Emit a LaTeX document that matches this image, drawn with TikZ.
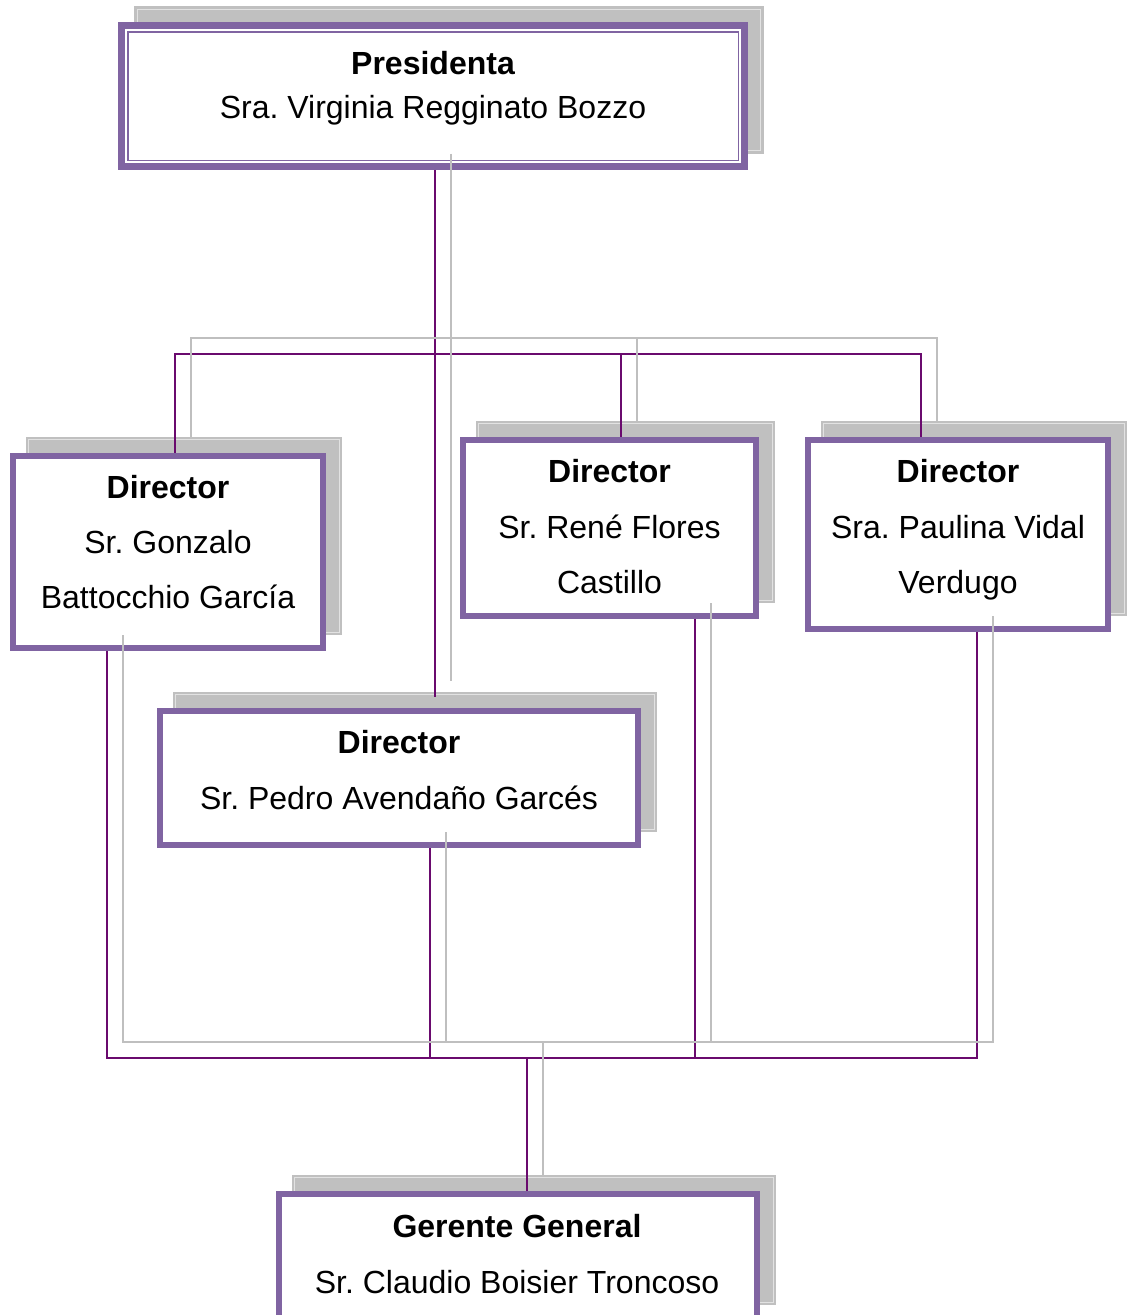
\documentclass[tikz,border=0pt]{standalone}
\usepackage{fontspec}
\setmainfont{Liberation Sans}
\frenchspacing
\definecolor{framepurple}{HTML}{8064A2}
\definecolor{connpurple}{HTML}{6A0A6E}
\definecolor{shadowgray}{HTML}{C0C0C0}
\definecolor{shadowline}{HTML}{E2E2E2}
\definecolor{conngray}{HTML}{BFBFBF}
\tikzset{
  shadowbox/.style={rectangle, fill=shadowgray, draw=none, inner sep=0pt,
    path picture={\draw[shadowline, line width=1pt]
      ([shift={(3pt,-3pt)}]path picture bounding box.north west) rectangle
      ([shift={(-3pt,3pt)}]path picture bounding box.south east);}},
  framebox/.style={rectangle, draw=framepurple, fill=white, line width=6.5pt, inner sep=0pt},
  pconn/.style={draw=connpurple, line width=2pt},
  gconn/.style={draw=conngray, line width=2pt},
  txt/.style={anchor=base, inner sep=0pt, font=\fontsize{32}{38}\selectfont},
  btxt/.style={txt, font=\fontsize{32}{38}\selectfont\bfseries},
}
\begin{document}
\begin{tikzpicture}[x=1pt, y=-1pt]
\useasboundingbox (0,0) rectangle (1128,1315);
% shadows
\node[shadowbox, minimum width=629.5, minimum height=147.5] (presS) at (449,80) {};
\node[shadowbox, minimum width=316.5, minimum height=198.5] (gonzS) at (184,536) {};
\node[shadowbox, minimum width=299.5, minimum height=182.5] (reneS) at (625.5,512) {};
\node[shadowbox, minimum width=306.5, minimum height=195.5] (paulS) at (974,518.5) {};
\node[shadowbox, minimum width=484.5, minimum height=140.5] (pedroS) at (415,762) {};
\node[shadowbox, minimum width=484.5, minimum height=130.5] (gerS) at (534,1240) {};
% connector coordinates
\coordinate (pedroIn) at (435,697);
\coordinate (busL) at (175,354);
\coordinate (busM) at (621,354);
\coordinate (busR) at (921,354);
\coordinate (bbL) at (107,1058);
\coordinate (bbP) at (430,1058);
\coordinate (bbN) at (695,1058);
\coordinate (bbR) at (977,1058);
\coordinate (bbG) at (527,1058);
\coordinate (pedroInS) at (451,681);
\coordinate (busLS) at (191,338);
\coordinate (busMS) at (637,338);
\coordinate (busRS) at (937,338);
\coordinate (bbLS) at (123,1042);
\coordinate (bbPS) at (446,1042);
\coordinate (bbNS) at (711,1042);
\coordinate (bbRS) at (993,1042);
\coordinate (bbGS) at (543,1042);
% frames
\node[framebox, minimum width=623, minimum height=141] (pres) at (433,96) {};
\node[framebox, minimum width=310, minimum height=192] (gonz) at (168,552) {};
\node[framebox, minimum width=293, minimum height=176] (rene) at (609.5,528) {};
\node[framebox, minimum width=300, minimum height=189] (paul) at (958,534.5) {};
\node[framebox, minimum width=478, minimum height=134] (pedro) at (399,778) {};
\node[framebox, minimum width=478, minimum height=124] (ger) at (518,1256) {};
\draw[framepurple, line width=1.5pt] ([shift={(9.5pt,-9.5pt)}]pres.north west) rectangle ([shift={(-9.5pt,9.5pt)}]pres.south east);
% purple connectors
\draw[pconn] (pres.south -| pedroIn) -- (pedroIn);
\draw[pconn] (gonz.north -| busL) -- (busL) -- (busR) -- (paul.north -| busR);
\draw[pconn] (busM) -- (rene.north -| busM);
\draw[pconn] (gonz.south -| bbL) -- (bbL) -- (bbR) -- (paul.south -| bbR);
\draw[pconn] (pedro.south -| bbP) -- (bbP);
\draw[pconn] (rene.south -| bbN) -- (bbN);
\draw[pconn] (bbG) -- (ger.north -| bbG);
% gray shadow connectors
\draw[gconn] (presS.south -| pedroInS) -- (pedroInS);
\draw[gconn] (gonzS.north -| busLS) -- (busLS) -- (busRS) -- (paulS.north -| busRS);
\draw[gconn] (busMS) -- (reneS.north -| busMS);
\draw[gconn] (gonzS.south -| bbLS) -- (bbLS) -- (bbRS) -- (paulS.south -| bbRS);
\draw[gconn] (pedroS.south -| bbPS) -- (bbPS);
\draw[gconn] (reneS.south -| bbNS) -- (bbNS);
\draw[gconn] (bbGS) -- (gerS.north -| bbGS);
% texts
\node[btxt] (presT1) at (433,74) {Presidenta};
\node[txt] (presT2) at (433,118) {Sra. Virginia Regginato Bozzo};
\node[btxt] (gonzT1) at (168,498) {Director};
\node[txt] (gonzT2) at (168,553) {Sr. Gonzalo};
\node[txt] (gonzT3) at (168,608) {Battocchio García};
\node[btxt] (reneT1) at (609.5,482) {Director};
\node[txt] (reneT2) at (609.5,538) {Sr. René Flores};
\node[txt] (reneT3) at (609.5,593) {Castillo};
\node[btxt] (paulT1) at (958,482) {Director};
\node[txt] (paulT2) at (958,538) {Sra. Paulina Vidal};
\node[txt] (paulT3) at (958,593) {Verdugo};
\node[btxt] (pedroT1) at (399,753) {Director};
\node[txt] (pedroT2) at (399,809) {Sr. Pedro Avendaño Garcés};
\node[btxt] (gerT1) at (517,1237) {Gerente General};
\node[txt] (gerT2) at (517,1293) {Sr. Claudio Boisier Troncoso};
\end{tikzpicture}
\end{document}
